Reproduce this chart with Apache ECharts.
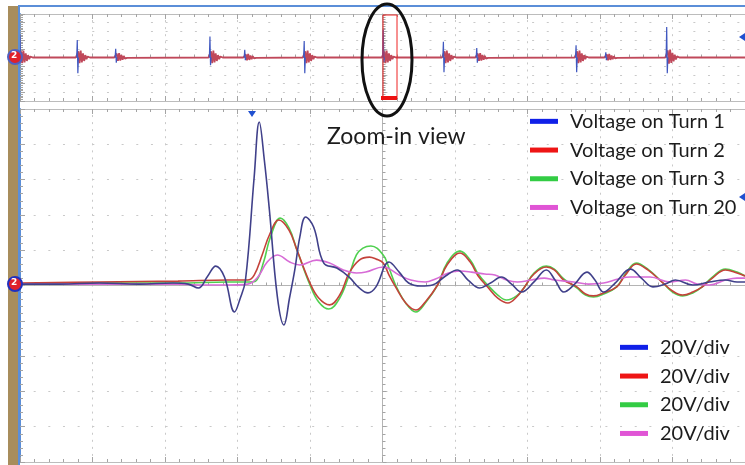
<!DOCTYPE html>
<html>
<head>
<meta charset="utf-8">
<script src="https://cdn.jsdelivr.net/npm/echarts@6/dist/echarts.min.js"></script>
<style>
  html, body { margin: 0; padding: 0; background: #ffffff; }
  #chart { width: 745px; height: 465px; }
</style>
</head>
<body>
<div id="chart"></div>
<script>
// Zoomed capture, time in ns (10 ns/div), voltage in V (20 V/div)
const seriesNames = ['Voltage on Turn 1', 'Voltage on Turn 2', 'Voltage on Turn 3', 'Voltage on Turn 20'];
const scaleLabel = '20V/div';

const turn1T = [-50.0, -44.5, -39.1, -33.6, -28.9, -26.8, -25.4, -24.1, -23.0, -21.8, -20.4, -19.7, -18.9, -17.7, -17.0, -16.3, -15.6, -14.5, -13.6, -12.8, -12.1, -11.4, -10.6, -9.5, -8.1, -6.3, -4.6, -3.2, -2.0, -0.9, 0.9, 2.3, 3.6, 5.3, 6.9, 8.7, 10.3, 11.8, 13.4, 14.9, 16.4, 17.8, 19.2, 20.9, 22.6, 23.8, 25.0, 26.4, 28.2, 29.3, 30.5, 32.1, 34.2, 35.7, 37.3, 39.0, 40.4, 42.8, 45.1, 47.3, 48.9, 50.0];
const turn1V = [0.8, 0.8, 1.4, 0.8, 1.4, 0.8, -1.4, 5.4, 11.0, 4.8, -15.0, -8.2, 3.1, 61.5, 92.6, 71.1, 42.8, -6.5, -22.4, -6.5, 8.8, 27.5, 38.8, 33.1, 12.7, 9.9, 4.8, -1.4, -4.2, -0.8, 13.3, 7.6, 1.4, -0.3, 0.3, 5.4, 8.8, 3.1, -1.4, 1.4, 4.8, 0.8, -3.7, 2.0, 8.8, 3.1, -3.7, 0.3, 7.6, 3.1, -3.7, 1.4, 9.3, 4.2, -0.8, 0.8, 3.1, 0.3, 2.0, 3.1, 2.0, 2.0];

const turn2T = [-50.0, -39.1, -28.2, -21.4, -18.6, -17.7, -16.6, -15.6, -14.3, -12.9, -11.8, -10.0, -8.8, -7.3, -5.9, -4.6, -3.2, -1.8, -0.9, 0.1, 0.9, 1.8, 3.2, 4.6, 5.9, 7.6, 8.9, 10.7, 12.1, 13.2, 14.5, 15.9, 17.3, 18.5, 19.6, 20.9, 22.6, 23.7, 25.0, 26.8, 28.0, 29.1, 30.5, 32.3, 33.5, 35.0, 36.6, 38.7, 40.0, 41.4, 42.8, 44.1, 45.5, 47.3, 48.9, 50.0];
const turn2V = [1.4, 2.0, 2.5, 3.1, 3.1, 5.9, 17.3, 28.6, 37.1, 31.4, 20.1, 1.4, -7.1, -11.0, -5.4, 7.1, 14.4, 16.1, 15.0, 12.7, 5.9, -0.8, -9.9, -13.9, -9.3, 0.3, 11.6, 18.4, 13.3, 5.4, -0.8, -7.1, -9.9, -6.5, -0.8, 6.5, 10.5, 8.8, 3.1, -0.8, -4.8, -5.9, -4.2, -0.8, 5.9, 12.2, 8.8, 1.4, -3.1, -5.4, -3.7, -0.8, 4.2, 8.8, 7.1, 5.4];

const turn3T = [-50.0, -39.1, -28.2, -21.4, -18.3, -17.5, -16.4, -15.5, -14.1, -12.9, -11.8, -10.0, -8.8, -7.4, -5.9, -4.6, -3.6, -2.7, -1.6, 0.1, 0.9, 1.8, 3.2, 4.6, 5.9, 7.6, 8.9, 10.7, 12.1, 13.2, 14.5, 15.9, 17.1, 18.5, 19.6, 20.9, 22.6, 23.7, 25.0, 26.8, 28.0, 29.1, 30.5, 32.3, 33.5, 35.0, 36.6, 38.7, 40.0, 41.4, 42.8, 44.1, 45.5, 47.3, 48.9, 50.0];
const turn3V = [0.8, 1.4, 1.4, 2.0, 2.0, 2.5, 13.3, 26.9, 38.2, 32.6, 20.1, 0.3, -9.3, -13.3, -7.1, 5.9, 17.3, 21.2, 22.4, 17.3, 9.9, 0.3, -9.9, -15.0, -9.9, 0.3, 12.7, 19.5, 14.4, 6.5, 0.3, -5.4, -8.2, -5.9, -0.8, 7.1, 11.0, 9.3, 3.7, -1.4, -5.4, -6.5, -4.8, -0.8, 6.5, 12.7, 9.3, 1.4, -3.7, -5.9, -4.2, -0.8, 4.8, 9.3, 7.6, 5.4];

const turn20T = [-50.0, -39.1, -28.2, -25.4, -21.4, -18.6, -17.3, -15.9, -14.5, -12.8, -11.4, -9.1, -7.3, -5.4, -3.6, -2.3, 0.1, 2.3, 3.9, 5.9, 7.3, 9.1, 10.7, 12.3, 14.1, 15.5, 17.1, 18.6, 20.5, 22.3, 23.7, 26.4, 28.4, 30.5, 32.5, 34.2, 36.9, 39.6, 41.8, 43.4, 45.1, 47.3, 48.9, 50.0];
const turn20V = [0.8, 0.8, 0.8, 0.3, 0.3, 0.8, 4.2, 13.3, 17.3, 13.3, 11.6, 14.4, 12.7, 8.8, 7.1, 7.6, 10.5, 5.9, 3.1, 2.0, 3.7, 7.1, 8.2, 7.6, 6.5, 5.9, 3.1, 2.0, 3.1, 4.2, 3.1, 2.0, 0.8, 1.4, 3.7, 4.8, 4.8, 2.0, 3.1, 0.8, 0.3, 3.1, 4.2, 4.2];

// Full record overview (divisions): burst times, spike extremes and ringing level
const burstT = [-50.0, -42.1, -36.8, -23.8, -19.0, -10.8, 0.1, 8.4, 13.0, 26.7, 30.8, 39.2];
const burstUp = [2.6, 2.0, 1.0, 2.4, 0.9, 1.9, 3.2, 1.8, 1.1, 1.4, 0.6, 3.5];
const burstDown = [-0.5, -1.8, -0.6, -0.9, -0.3, -1.8, -0.5, -1.7, -0.6, -1.7, -0.3, -1.8];
const ringAmp = [0.8, 0.8, 0.5, 0.8, 0.4, 0.8, 0.8, 0.8, 0.5, 0.8, 0.4, 0.9];
const ringShape = [0.9, -0.8, 1.0, -0.7, 0.6, -0.5, 0.35, -0.25, 0.15, -0.1];

const traceColors = ['#40408a', '#c4423a', '#4fd04f', '#d76bd6'];
const legendColors = ['#1020e8', '#ee1515', '#33cc44', '#e055d5'];

const zip = (a, b) => a.map((v, i) => [v, b[i]]);

// overview traces
const ringData = [[-50, 0]];
burstT.forEach((t, i) => {
  ringData.push([t - 0.2, 0]);
  ringShape.forEach((s, k) => ringData.push([t + 0.15 + 0.16 * k, s * ringAmp[i]]));
  ringData.push([t + 0.15 + 0.16 * ringShape.length, 0]);
});
ringData.push([50, 0]);
const spikeData = [];
burstT.forEach((t, i) => {
  spikeData.push([t - 0.08, 0], [t, burstUp[i]], [t + 0.08, burstDown[i]], [t + 0.16, 0], [t + 0.2, '-']);
});

const chart = echarts.init(document.getElementById('chart'), null, { renderer: 'canvas' });

const gridGray = '#c9c9c9';
const tickGray = '#a4a4a4';
const frameBlue = '#5b8ed8';

function edgeX(gridIndex, position) {
  return {
    type: 'value', gridIndex, min: -50, max: 50, interval: 10, position,
    axisLine: { show: true, onZero: false, lineStyle: { color: '#bcbcbc', width: 1 } },
    axisTick: { show: true, inside: true, length: 5, lineStyle: { color: tickGray } },
    minorTick: { show: true, splitNumber: 5, length: 3, lineStyle: { color: tickGray } },
    axisLabel: { show: false }, splitLine: { show: false }
  };
}
function centerX(gridIndex) {
  return {
    type: 'value', gridIndex, min: -50, max: 50, interval: 10, position: 'bottom',
    axisLine: { show: true, onZero: true, lineStyle: { color: '#b4b4b4', width: 1 } },
    axisTick: { show: true, inside: true, length: 4, lineStyle: { color: tickGray } },
    minorTick: { show: true, splitNumber: 5, length: 3, lineStyle: { color: tickGray } },
    axisLabel: { show: false },
    splitLine: { show: true, lineStyle: { color: gridGray, type: [2, 5.06], dashOffset: 1 } }
  };
}
function centerY(gridIndex, lim, step, dash) {
  return {
    type: 'value', gridIndex, min: -lim, max: lim, interval: step, position: 'left',
    axisLine: { show: true, onZero: true, lineStyle: { color: '#b4b4b4', width: 1 } },
    axisTick: { show: true, inside: true, length: 4, lineStyle: { color: tickGray } },
    minorTick: { show: true, splitNumber: 5, length: 3, lineStyle: { color: tickGray } },
    axisLabel: { show: false },
    splitLine: { show: true, lineStyle: { color: gridGray, type: dash, dashOffset: 1 } }
  };
}
function edgeY(gridIndex, lim, step) {
  return {
    type: 'value', gridIndex, min: -lim, max: lim, interval: step, position: 'left',
    axisLine: { show: true, onZero: false, lineStyle: { color: frameBlue, width: 2 } },
    axisTick: { show: true, inside: true, length: 5, lineStyle: { color: tickGray } },
    minorTick: { show: true, splitNumber: 5, length: 3, lineStyle: { color: tickGray } },
    axisLabel: { show: false }, splitLine: { show: false }
  };
}

const legendData = seriesNames.map((n, i) => ({ name: n, itemStyle: { color: legendColors[i] } }));
const legendBase = {
  orient: 'vertical', icon: 'rect', itemWidth: 28, itemHeight: 5, itemGap: 0,
  padding: 0, selectedMode: false, data: legendData,
  textStyle: { fontFamily: 'Lato', fontSize: 20, color: '#1c1c1c', lineHeight: 28.7, padding: [0, 0, 0, 7] }
};

const zOrder = [6, 4, 3, 5];
const mainSeries = [zip(turn1T, turn1V), zip(turn2T, turn2V), zip(turn3T, turn3V), zip(turn20T, turn20V)].map((d, i) => ({
  name: seriesNames[i], type: 'line', xAxisIndex: 0, yAxisIndex: 0,
  data: d, smooth: 0.4, showSymbol: false, symbol: 'none', silent: true, animation: false,
  z: zOrder[i], lineStyle: { color: traceColors[i], width: 1.6 }, itemStyle: { color: traceColors[i] }
}));

const option = {
  backgroundColor: '#ffffff',
  animation: false,
  grid: [
    { left: 20, top: 109, width: 733, height: 353 },
    { left: 20, top: 14, width: 733, height: 87 }
  ],
  xAxis: [
    centerX(0), edgeX(0, 'top'), edgeX(0, 'bottom'),
    centerX(1), edgeX(1, 'top'), edgeX(1, 'bottom')
  ],
  yAxis: [
    centerY(0, 100, 20, [2, 12.66]), edgeY(0, 100, 20),
    centerY(1, 5, 1, [2, 12.66]), edgeY(1, 5, 1)
  ],
  legend: [
    Object.assign({}, legendBase, { left: 530, top: 107 }),
    Object.assign({}, legendBase, { left: 620, top: 333, formatter: () => scaleLabel })
  ],
  series: mainSeries.concat([
    {
      type: 'line', xAxisIndex: 3, yAxisIndex: 2, data: ringData, showSymbol: false, symbol: 'none',
      silent: true, z: 3, lineStyle: { color: '#c0485a', width: 1.8 }
    },
    {
      type: 'line', xAxisIndex: 3, yAxisIndex: 2, data: spikeData, showSymbol: false, symbol: 'none',
      silent: true, z: 4, connectNulls: false, lineStyle: { color: '#4058c0', width: 1.2 }
    }
  ]),
  graphic: [
    { type: 'rect', z: 100, shape: { x: 8, y: 6, width: 10, height: 459 }, style: { fill: '#a88d5c' } },
    { type: 'rect', z: 101, shape: { x: 18, y: 6, width: 2, height: 459 }, style: { fill: frameBlue } },
    { type: 'rect', z: 101, shape: { x: 18, y: 5, width: 727, height: 2 }, style: { fill: frameBlue } },
    // zoom window in the overview
    { type: 'rect', z: 101, shape: { x: 383, y: 15, width: 14, height: 84 }, style: { fill: null, stroke: '#ee2222', lineWidth: 1 } },
    { type: 'rect', z: 101, shape: { x: 381, y: 96, width: 16, height: 4 }, style: { fill: '#ee1111' } },
    { type: 'ellipse', z: 102, shape: { cx: 387, cy: 60, rx: 25, ry: 56 }, style: { fill: null, stroke: '#111111', lineWidth: 3 } },
    { type: 'text', z: 102, left: 327, top: 125, style: { text: 'Zoom-in view', fontFamily: 'Lato', fontSize: 23, fill: '#1c1c1c' } },
    // trigger and level markers
    { type: 'polygon', z: 102, shape: { points: [[248, 111], [256, 111], [252, 117]] }, style: { fill: '#2050d0' } },
    { type: 'polygon', z: 102, shape: { points: [[745, 193], [745, 201], [739, 197]] }, style: { fill: '#2050d0' } },
    { type: 'polygon', z: 102, shape: { points: [[745, 33], [745, 41], [739, 37]] }, style: { fill: '#2050d0' } },
    // channel ground markers
    { type: 'circle', z: 103, shape: { cx: 15, cy: 284, r: 7 }, style: { fill: '#e0202a', stroke: '#2030c0', lineWidth: 2 } },
    { type: 'text', z: 104, left: 11, top: 278, style: { text: '2', fontFamily: 'DejaVu Sans', fontSize: 9, fontWeight: 'bold', fill: '#ffffff' } },
    { type: 'circle', z: 103, shape: { cx: 15, cy: 57, r: 7 }, style: { fill: '#e0202a', stroke: '#5060c0', lineWidth: 2 } },
    { type: 'text', z: 104, left: 11, top: 51, style: { text: '2', fontFamily: 'DejaVu Sans', fontSize: 9, fontWeight: 'bold', fill: '#ffffff' } }
  ]
};

chart.setOption(option);
</script>
</body>
</html>
